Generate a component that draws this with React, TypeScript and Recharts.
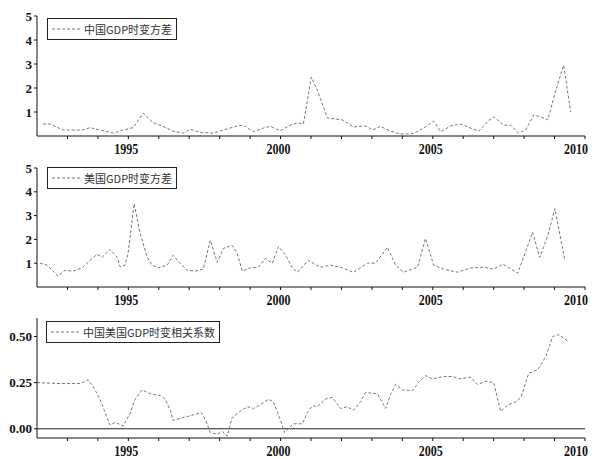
import React from 'react';
import { LineChart, Line, XAxis, YAxis, ReferenceLine } from 'recharts';

// 中国GDP时变方差 (time in decimal years, value)
const cnVarT = [1992.2, 1992.43, 1992.86, 1993.51, 1993.74, 1994.07, 1994.5, 1994.83, 1995.16, 1995.49, 1995.82, 1996.14, 1996.47, 1996.8, 1997.03, 1997.36, 1997.79, 1998.12, 1998.58, 1998.78, 1999.11, 1999.43, 1999.66, 1999.99, 2000.32, 2000.55, 2000.75, 2001.01, 2001.21, 2001.54, 2002.03, 2002.39, 2002.79, 2003.02, 2003.28, 2003.61, 2003.94, 2004.37, 2004.7, 2005.03, 2005.26, 2005.59, 2005.91, 2006.24, 2006.51, 2006.8, 2007.0, 2007.33, 2007.56, 2007.82, 2008.05, 2008.32, 2008.55, 2008.78, 2009.04, 2009.3, 2009.53];
const cnVarV = [0.5, 0.5, 0.25, 0.25, 0.35, 0.25, 0.12, 0.25, 0.35, 0.95, 0.55, 0.4, 0.2, 0.12, 0.28, 0.15, 0.12, 0.25, 0.42, 0.45, 0.18, 0.33, 0.4, 0.22, 0.45, 0.55, 0.5, 2.45, 1.9, 0.75, 0.67, 0.38, 0.42, 0.25, 0.4, 0.2, 0.08, 0.1, 0.33, 0.62, 0.18, 0.42, 0.5, 0.33, 0.2, 0.6, 0.8, 0.45, 0.45, 0.12, 0.25, 0.88, 0.8, 0.67, 1.9, 2.95, 1.0];

// 美国GDP时变方差
const usVarT = [1992.1, 1992.33, 1992.69, 1992.92, 1993.18, 1993.48, 1993.74, 1993.97, 1994.14, 1994.4, 1994.63, 1994.73, 1994.89, 1994.99, 1995.19, 1995.39, 1995.62, 1995.78, 1995.98, 1996.28, 1996.47, 1996.7, 1996.93, 1997.2, 1997.46, 1997.69, 1997.92, 1998.12, 1998.41, 1998.58, 1998.74, 1999.01, 1999.27, 1999.5, 1999.73, 1999.93, 2000.16, 2000.39, 2000.55, 2000.91, 2001.31, 2001.64, 2002.03, 2002.39, 2002.86, 2003.12, 2003.51, 2003.78, 2004.04, 2004.5, 2004.76, 2005.03, 2005.36, 2005.82, 2006.24, 2006.67, 2007.0, 2007.3, 2007.79, 2008.28, 2008.51, 2008.64, 2008.78, 2009.01, 2009.34];
const usVarV = [1.0, 0.92, 0.46, 0.7, 0.67, 0.8, 1.12, 1.37, 1.25, 1.58, 1.25, 0.85, 0.92, 1.4, 3.5, 2.25, 1.25, 0.92, 0.8, 0.92, 1.33, 1.0, 0.7, 0.67, 0.75, 1.96, 1.04, 1.62, 1.75, 1.4, 0.67, 0.8, 0.83, 1.2, 1.0, 1.7, 1.35, 0.8, 0.62, 1.12, 0.83, 0.92, 0.8, 0.62, 1.0, 1.0, 1.67, 0.92, 0.62, 0.83, 2.04, 0.92, 0.75, 0.62, 0.8, 0.83, 0.75, 0.96, 0.58, 2.3, 1.25, 1.67, 2.17, 3.29, 1.12];

// 中国美国GDP时变相关系数
const corrT = [1992.0, 1992.76, 1993.41, 1993.68, 1993.84, 1994.07, 1994.24, 1994.4, 1994.57, 1994.83, 1995.06, 1995.22, 1995.45, 1995.72, 1996.05, 1996.21, 1996.38, 1996.47, 1996.77, 1997.03, 1997.39, 1997.53, 1997.69, 1997.92, 1998.09, 1998.25, 1998.41, 1998.68, 1998.91, 1999.11, 1999.34, 1999.6, 1999.76, 1999.99, 2000.13, 2000.42, 2000.72, 2000.88, 2001.05, 2001.21, 2001.47, 2001.7, 2001.97, 2002.2, 2002.39, 2002.63, 2002.79, 2003.18, 2003.45, 2003.61, 2003.78, 2004.01, 2004.34, 2004.53, 2004.76, 2004.99, 2005.36, 2005.65, 2005.91, 2006.24, 2006.47, 2006.74, 2007.0, 2007.23, 2007.46, 2007.66, 2007.89, 2008.15, 2008.45, 2008.71, 2008.94, 2009.14, 2009.47];
const corrV = [0.25, 0.245, 0.245, 0.265, 0.23, 0.16, 0.085, 0.02, 0.035, 0.015, 0.085, 0.16, 0.21, 0.19, 0.18, 0.16, 0.1, 0.045, 0.06, 0.07, 0.088, 0.05, -0.02, -0.03, -0.015, -0.04, 0.06, 0.095, 0.12, 0.11, 0.13, 0.16, 0.147, 0.05, -0.02, 0.027, 0.027, 0.09, 0.125, 0.12, 0.16, 0.17, 0.11, 0.12, 0.1, 0.147, 0.196, 0.19, 0.11, 0.185, 0.24, 0.21, 0.207, 0.25, 0.288, 0.27, 0.283, 0.283, 0.27, 0.28, 0.24, 0.257, 0.25, 0.094, 0.13, 0.14, 0.168, 0.3, 0.32, 0.39, 0.5, 0.51, 0.47];

const yearTicks = [1993, 1994, 1995, 1996, 1997, 1998, 1999, 2000, 2001, 2002, 2003, 2004, 2005, 2006, 2007, 2008, 2009, 2010];
const varTicks = [1, 2, 3, 4, 5];
const corrTicks = [0, 0.25, 0.5];

const LINE = '#777777';
const SERIF = '"Liberation Serif", "DejaVu Serif", serif';
const CJK = '"Noto Sans CJK SC", "Noto Sans", sans-serif';

// only label every fifth year, minor years just get the tick line
// eslint-disable-next-line @typescript-eslint/no-explicit-any
function YearTick(props: any) {
  const { x, y, payload } = props;
  if (payload.value % 5 !== 0) return null;
  // last label sits at the right edge of the page, anchor it by its end
  const last = payload.value === 2010;
  return (
    <text
      x={last ? x + 3 : x - 2}
      y={y + 13}
      textAnchor={last ? 'end' : 'middle'}
      fontFamily={SERIF}
      fontWeight="bold"
      fontSize={15}
      textLength={24}
      lengthAdjust="spacingAndGlyphs"
      fill="#111"
    >
      {payload.value}
    </text>
  );
}

function LegendBox({ label, left, top }: { label: string; left: number; top: number }) {
  return (
    <div
      style={{
        position: 'absolute',
        left,
        top,
        border: '1px solid #222',
        background: 'white',
        display: 'flex',
        alignItems: 'center',
        padding: '2px 4px 2px 4px',
        height: 16,
        fontFamily: CJK,
        fontSize: 11,
        color: '#333',
        whiteSpace: 'nowrap',
      }}
    >
      <svg width={28} height={6} style={{ marginRight: 4 }}>
        <line x1={0} y1={3} x2={28} y2={3} stroke={LINE} strokeDasharray="3 2" />
      </svg>
      {label}
    </div>
  );
}

function Panel({
  t, v, top, height, marginTop, domain, ticks, fmt, zeroLine, label, legendTop, legendLeft,
}: {
  t: number[]; v: number[]; top: number; height: number; marginTop: number;
  domain: [number, number]; ticks: number[]; fmt: (n: number) => string; zeroLine?: boolean;
  label: string; legendTop: number; legendLeft: number;
}) {
  const data = t.map((tt, i) => ({ t: tt, v: v[i] }));
  return (
    <div style={{ position: 'absolute', left: 0, top, width: 595, height }}>
      <LineChart width={595} height={height} data={data} margin={{ top: marginTop, right: 10, bottom: 0, left: 7 }}>
        <XAxis
          type="number"
          dataKey="t"
          domain={[1992, 2010]}
          ticks={yearTicks}
          interval={0}
          tick={<YearTick />}
          tickSize={3}
          height={24}
          stroke="#111"
          allowDataOverflow
        />
        <YAxis
          type="number"
          domain={domain}
          ticks={ticks}
          interval={0}
          tickFormatter={fmt}
          tickSize={3}
          width={30}
          stroke="#111"
          tick={{ fontFamily: SERIF, fontWeight: 'bold', fontSize: 13, fill: '#111' }}
          allowDataOverflow
        />
        {zeroLine && <ReferenceLine y={0} stroke="#222" strokeWidth={1.2} />}
        <Line
          type="linear"
          dataKey="v"
          stroke={LINE}
          strokeWidth={1}
          strokeDasharray="3 2"
          dot={false}
          isAnimationActive={false}
        />
      </LineChart>
      <LegendBox label={label} left={legendLeft} top={legendTop - top} />
    </div>
  );
}

export default function App() {
  return (
    <div style={{ position: 'absolute', left: 0, top: 0, width: 595, height: 459, background: 'white' }}>
      <Panel
        t={cnVarT} v={cnVarV} top={0} height={160} marginTop={16}
        domain={[0, 5]} ticks={varTicks} fmt={(n) => String(n)}
        label="中国GDP时变方差" legendTop={18} legendLeft={47}
      />
      <Panel
        t={usVarT} v={usVarV} top={150} height={161} marginTop={18}
        domain={[0, 5]} ticks={varTicks} fmt={(n) => String(n)}
        label="美国GDP时变方差" legendTop={167} legendLeft={47}
      />
      <Panel
        t={corrT} v={corrV} top={300} height={162} marginTop={18}
        domain={[-0.05, 0.6]} ticks={corrTicks} fmt={(n) => n.toFixed(2)} zeroLine
        label="中国美国GDP时变相关系数" legendTop={321} legendLeft={46}
      />
    </div>
  );
}
